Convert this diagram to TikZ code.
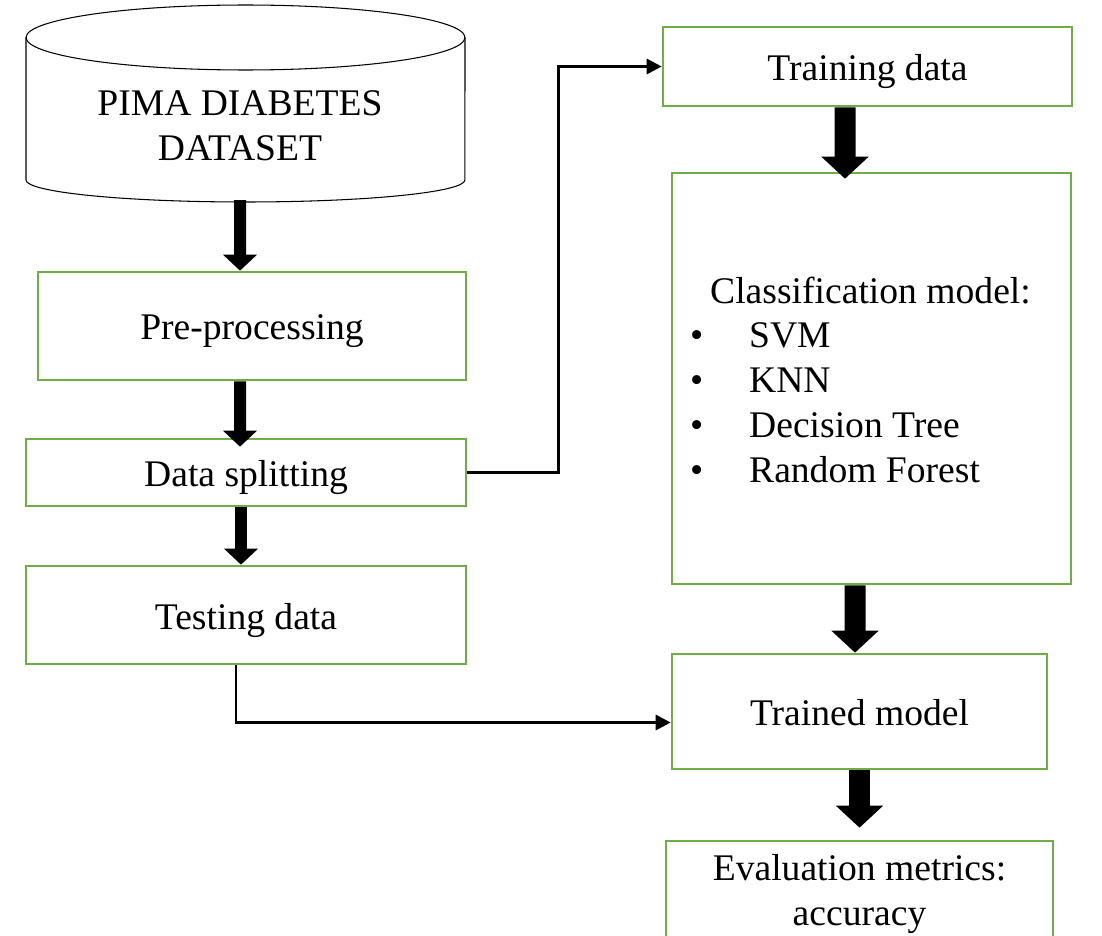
\documentclass[tikz,border=0pt]{standalone}
\usepackage{fontspec}
\setmainfont{Liberation Serif}
\usetikzlibrary{arrows.meta,positioning,calc}
\definecolor{FlowGreen}{HTML}{70AD47}
\definecolor{FlowInk}{HTML}{000000}
\newcommand{\lowtext}[1]{\raisebox{-0.28cm}[0pt][0pt]{#1}}

\begin{document}
\begin{tikzpicture}[
    x=0.02cm, y=-0.02cm,
    font=\fontsize{21.4}{25.5}\selectfont,
    box/.style 2 args={
      draw=FlowGreen,
      line width=1.5pt,
      fill=white,
      minimum width=#1,
      minimum height=#2,
      inner sep=0pt
    },
    flow/.style={
      -{Triangle[length=0.32cm,width=0.66cm]},
      line width=0.24cm,
      color=FlowInk
    },
    bigflow/.style={
      -{Triangle[length=0.44cm,width=0.92cm]},
      line width=0.42cm,
      color=FlowInk
    },
    link/.style={
      -{Triangle[length=0.3cm,width=0.3cm]},
      line width=1.7pt,
      color=FlowInk
    }
  ]
  \useasboundingbox (0,0) rectangle (1102,936);
  \clip (0,0) rectangle (1102,936);

  % Dataset
  \draw[line width=0.6pt] (26,37.5) -- (26,180)
    arc[start angle=180,end angle=360,x radius=4.39cm,y radius=0.44cm]
    -- (465,37.5);
  \draw[line width=0.6pt] (245.5,37.5) ellipse [x radius=4.39cm,y radius=0.65cm];
  \node[align=center] (db) at (240,126) {PIMA DIABETES\\DATASET};
  \coordinate (dbbase) at (240,200);

  % left column
  \node[box={8.56cm}{2.16cm}] (pre) at (252,326) {\lowtext{Pre-processing}};
  \node[box={8.8cm}{1.34cm}] (split) at (246,472.5) {\lowtext{Data splitting}};
  \node[box={8.8cm}{1.96cm}] (test) at (246,615) {\lowtext{Testing data}};

  % right column
  \node[box={8.18cm}{1.58cm}] (train) at (867.5,66.5) {\lowtext{Training data}};
  \node[box={7.98cm}{8.22cm}] (cls) at (871.5,378.5) {%
    \begin{tabular}{@{}l@{\hspace{0.44cm}}}
      \rule{0pt}{0.84cm}\hspace*{0.4cm}Classification model:\\
      \makebox[1.18cm][l]{\textbullet}SVM\\
      \makebox[1.18cm][l]{\textbullet}KNN\\
      \makebox[1.18cm][l]{\textbullet}Decision Tree\\
      \makebox[1.18cm][l]{\textbullet}Random Forest
    \end{tabular}};
  \node[box={7.5cm}{2.3cm}] (trained) at (859.5,711.5) {\lowtext{Trained model}};
  \node[box={7.74cm}{2.12cm},align=center] (eval) at (859.5,894)
    {Evaluation metrics:\\accuracy};

  % block arrows
  \draw[flow] (dbbase) -- ([xshift=-0.24cm]pre.north);
  \draw[flow] ([xshift=-0.24cm]pre.south) -- ([xshift=-0.12cm,yshift=-0.18cm]split.north);
  \draw[flow] ([xshift=-0.1cm]split.south) -- ([xshift=-0.1cm]test.north);
  \draw[bigflow] ([xshift=-0.45cm]train.south) -- ([xshift=-0.53cm,yshift=-0.14cm]cls.north);
  \draw[bigflow] ([xshift=-0.33cm]cls.south) -- ([xshift=-0.09cm]trained.north);
  \draw[bigflow,shorten >=0.24cm] (trained.south) -- (eval.north);

  % split links
  \draw[link] (split.east) -- ++(91,0) |- (train.west);
  \draw[link] ([xshift=-0.2cm]test.south) |- ([yshift=-0.22cm]trained.west);

\end{tikzpicture}
\end{document}
